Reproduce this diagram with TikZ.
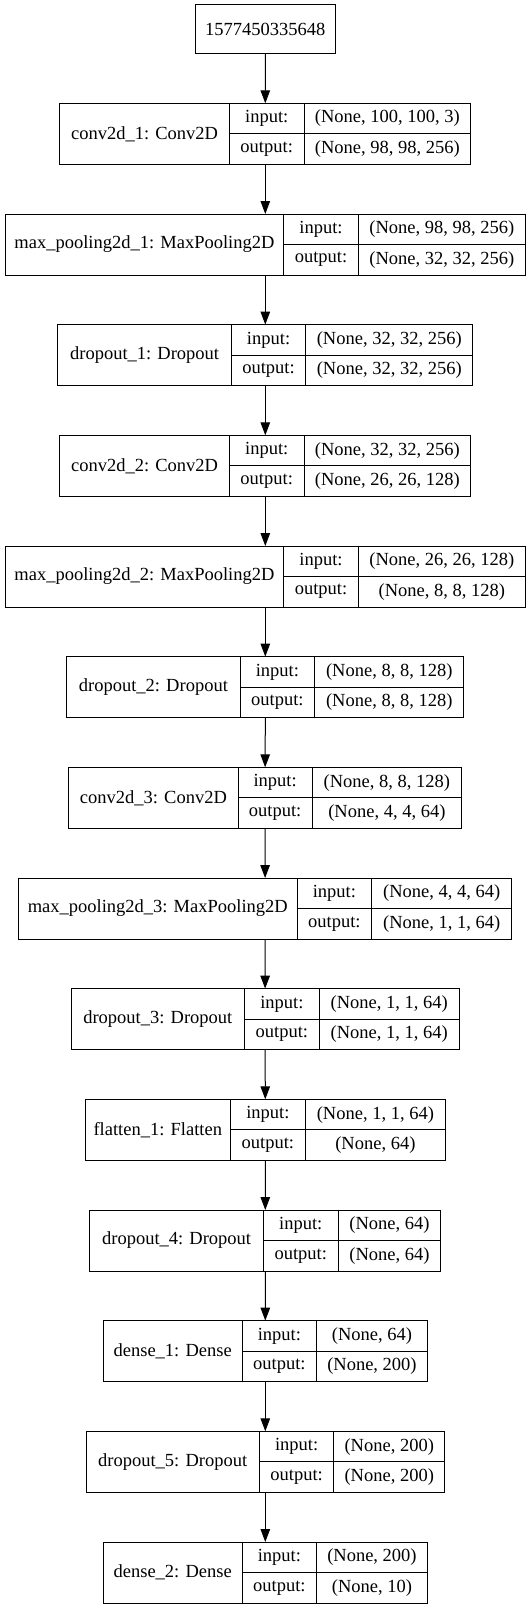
\documentclass[tikz,border=0pt]{standalone}
\usepackage{fontspec}
\setmainfont{Liberation Serif}
\usetikzlibrary{arrows.meta,positioning}

% one layer: name, top, x0, x1, x2, x3, label, input, output
\newcommand{\layerbox}[9]{%
	\node[outer, minimum width={(#6-#3)*1bp}, anchor=north west] (#1) at (#3,#2) {};
	\node[cell, minimum width={(#4-#3)*1bp}, minimum height=61bp, anchor=north west] (#1-name) at (#3,#2) {#7};
	\node[cell, minimum width={(#5-#4)*1bp}, anchor=north west] (#1-in) at (#4,#2) {input:};
	\node[cell, minimum width={(#5-#4)*1bp}, anchor=south west] (#1-out) at (#4,#2+61) {output:};
	\node[cell, minimum width={(#6-#5)*1bp}, anchor=north west] (#1-inv) at (#5,#2) {#8};
	\node[cell, minimum width={(#6-#5)*1bp}, anchor=south west] (#1-outv) at (#5,#2+61) {#9};
}

\begin{document}
\begin{tikzpicture}[x=1bp, y=-1bp,
	cell/.style={draw, line width=1bp, inner sep=0pt, outer sep=0pt, minimum height=30.5bp,
		font=\fontsize{18.5bp}{22bp}\selectfont},
	outer/.style={draw, line width=1bp, inner sep=0pt, outer sep=0pt, minimum height=61bp},
	arr/.style={-{Triangle[length=13bp,width=9.5bp]}, line width=1bp}]
	
	\useasboundingbox (0,0) rectangle (531,1609);
	
	\node[cell, minimum width=140bp, minimum height=48.5bp] (inp) at (265.3,29.2) {1577450335648};
	
	\layerbox{conv1}{103.3}{59.9}{229.3}{304.1}{470.7}{conv2d\_1: Conv2D}{(None, 100, 100, 3)}{(None, 98, 98, 256)}
	\layerbox{pool1}{214}{5.1}{283.8}{358.2}{525.5}{max\_pooling2d\_1: MaxPooling2D}{(None, 98, 98, 256)}{(None, 32, 32, 256)}
	\layerbox{drop1}{324.6}{57.9}{231.3}{305.8}{472.7}{dropout\_1: Dropout}{(None, 32, 32, 256)}{(None, 32, 32, 256)}
	\layerbox{conv2}{435.3}{59.9}{229.3}{304.1}{470.7}{conv2d\_2: Conv2D}{(None, 32, 32, 256)}{(None, 26, 26, 128)}
	\layerbox{pool2}{546}{5.1}{283.8}{358.2}{525.5}{max\_pooling2d\_2: MaxPooling2D}{(None, 26, 26, 128)}{(None, 8, 8, 128)}
	\layerbox{drop2}{656.6}{66.7}{240.1}{314.6}{463.9}{dropout\_2: Dropout}{(None, 8, 8, 128)}{(None, 8, 8, 128)}
	\layerbox{conv3}{767.3}{68.7}{238.1}{312.2}{461.6}{conv2d\_3: Conv2D}{(None, 8, 8, 128)}{(None, 4, 4, 64)}
	\layerbox{pool3}{878}{18.6}{297}{371.8}{511.6}{max\_pooling2d\_3: MaxPooling2D}{(None, 4, 4, 64)}{(None, 1, 1, 64)}
	\layerbox{drop3}{988.6}{71.1}{244.5}{319.3}{459.2}{dropout\_3: Dropout}{(None, 1, 1, 64)}{(None, 1, 1, 64)}
	\layerbox{flat1}{1099.3}{85.3}{230.3}{305.4}{445.3}{flatten\_1: Flatten}{(None, 1, 1, 64)}{(None, 64)}
	\layerbox{drop4}{1210}{89.7}{263.5}{338}{440.9}{dropout\_4: Dropout}{(None, 64)}{(None, 64)}
	\layerbox{dense1}{1320.6}{103.3}{242.1}{316.6}{427.3}{dense\_1: Dense}{(None, 64)}{(None, 200)}
	\layerbox{drop5}{1431.3}{86}{259.4}{333.9}{444.6}{dropout\_5: Dropout}{(None, 200)}{(None, 200)}
	\layerbox{dense2}{1542}{103.3}{242.1}{316.6}{427.3}{dense\_2: Dense}{(None, 200)}{(None, 10)}
	
	\draw[arr] (inp.south) -- (conv1.north);
	\draw[arr] (conv1.south) -- (pool1.north);
	\draw[arr] (pool1.south) -- (drop1.north);
	\draw[arr] (drop1.south) -- (conv2.north);
	\draw[arr] (conv2.south) -- (pool2.north);
	\draw[arr] (pool2.south) -- (drop2.north);
	\draw[arr] (drop2.south) -- (conv3.north);
	\draw[arr] (conv3.south) -- (pool3.north);
	\draw[arr] (pool3.south) -- (drop3.north);
	\draw[arr] (drop3.south) -- (flat1.north);
	\draw[arr] (flat1.south) -- (drop4.north);
	\draw[arr] (drop4.south) -- (dense1.north);
	\draw[arr] (dense1.south) -- (drop5.north);
	\draw[arr] (drop5.south) -- (dense2.north);
	
\end{tikzpicture}
\end{document}
